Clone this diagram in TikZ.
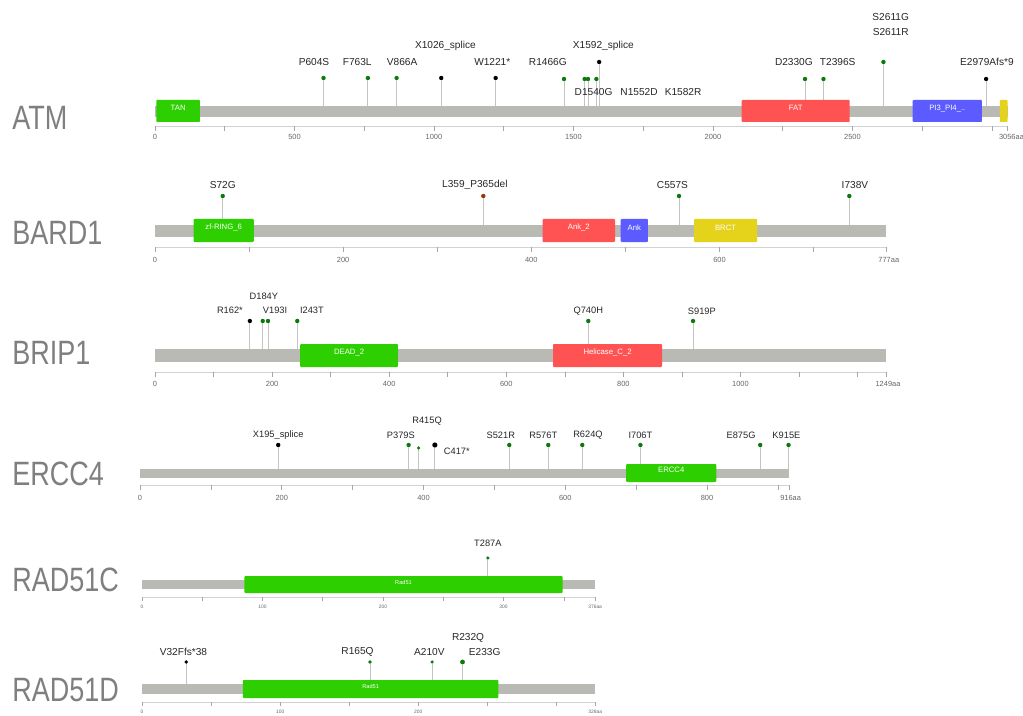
\documentclass[tikz,border=0pt]{standalone}
\usepackage{xcolor}
\usepackage{tikz}
\usepackage{fontspec}
\setmainfont{Liberation Sans}
\usetikzlibrary{fit}

\definecolor{pfgreen}{HTML}{2DCF00}
\definecolor{pfred}{HTML}{FF5353}
\definecolor{pfblue}{HTML}{5B5BFF}
\definecolor{pfyellow}{HTML}{E5D21A}
\definecolor{bargray}{HTML}{BABAB5}
\definecolor{stemgray}{HTML}{C4C4C4}
\definecolor{misgreen}{HTML}{0B7A0B}
\definecolor{inbrown}{HTML}{993404}
\definecolor{genegray}{HTML}{7F7F7F}
\definecolor{axgray}{HTML}{D2D2D2}

\tikzset{
    gene/.style={anchor=west, inner sep=0pt, text=genegray, font=\fontsize{24}{24}\selectfont},
    bar/.style={fill=bargray, inner sep=0pt},
    pfamdom/.style={inner sep=0pt, rounded corners=0.6pt, text=white, font=\fontsize{5.5}{6}\selectfont},
    stem/.style={draw=stemgray, line width=0.6pt},
    mis/.style={circle, fill=misgreen, inner sep=0pt, minimum size=0.11cm},
    trunc/.style={mis, fill=black},
    infr/.style={mis, fill=inbrown},
    mut/.style={inner sep=0pt, text=black!85, font=\fontsize{7.2}{8}\selectfont},
    smallmut/.style={mut, font=\fontsize{6.6}{7}\selectfont},
    axisline/.style={draw=axgray, line width=0.5pt},
    tickmark/.style={draw=black!35, line width=0.4pt},
    ticklab/.style={inner sep=0pt, text=black!60, font=\fontsize{5.3}{5.5}\selectfont},
}

\begin{document}
\begin{tikzpicture}[x=0.025cm, y=-0.025cm]
    \useasboundingbox (0,0) rectangle (1023,715);

    % Gene names
    \node[gene] (atmname) at (12,118) {\scalebox{0.8}[1]{ATM}};
    \node[gene] (bardname) at (12,233) {\scalebox{0.8}[1]{BARD1}};
    \node[gene] (bripname) at (12,353) {\scalebox{0.8}[1]{BRIP1}};
    \node[gene] (ercname) at (12,474) {\scalebox{0.8}[1]{ERCC4}};
    \node[gene] (rcname) at (12,580) {\scalebox{0.8}[1]{RAD51C}};
    \node[gene] (rdname) at (12,690) {\scalebox{0.8}[1]{RAD51D}};

    % ATM
    \begin{scope}[shift={(155,0)}, x=0.006968cm]
        \node[bar, fit={(0,106) (3056,117)}] (atmbar) {};
        % Mutations
        \node[mis] (atm604) at (604,78) {};
        \node[mis] (atm763) at (763,78) {};
        \node[mis] (atm866) at (866,78) {};
        \node[trunc] (atm1026) at (1026,78) {};
        \node[trunc] (atm1221) at (1221,78) {};
        \node[mis] (atm1466) at (1466,79) {};
        \node[mis] (atm1540) at (1540,79) {};
        \node[mis] (atm1552) at (1552,79) {};
        \node[mis] (atm1582) at (1582,79) {};
        \node[trunc] (atm1592) at (1592,62) {};
        \node[mis] (atm2330) at (2330,79) {};
        \node[mis] (atm2396) at (2396,79) {};
        \node[mis] (atm2611) at (2611,62) {};
        \node[trunc] (atm2979) at (2979,79) {};
        \foreach \m in {atm604,atm763,atm866,atm1026,atm1221,atm1466,atm1540,atm1552,atm1582,atm1592,atm2330,atm2396,atm2611,atm2979}
            \draw[stem] (\m) -- (\m |- atmbar.north);
        % Domains
        \node[pfamdom, fill=pfgreen, fit={(5,100) (161,122)}] (atmtan) {TAN};
        \node[pfamdom, fill=pfred, fit={(2103,100) (2490,122)}] (atmfat) {FAT};
        \node[pfamdom, fill=pfblue, fit={(2716,100) (2964,122)}] (atmpi) {PI3\_PI4\_..};
        \node[pfamdom, fill=pfyellow, fit={(3028,100) (3056,122)}] (atmend) {};
        % Labels
        \node[mut] (atm604l) at (570,62) {P604S};
        \node[mut] (atm763l) at (725,62) {F763L};
        \node[mut] (atm866l) at (886,62) {V866A};
        \node[mut] (atm1026l) at (1041,46) {X1026\_splice};
        \node[mut] (atm1221l) at (1209,62) {W1221*};
        \node[mut] (atm1466l) at (1408,62) {R1466G};
        \node[mut] (atm1540l) at (1572,92) {D1540G};
        \node[mut] (atm1552l) at (1735,92) {N1552D};
        \node[mut] (atm1582l) at (1893,92) {K1582R};
        \node[mut] (atm1592l) at (1607,46) {X1592\_splice};
        \node[mut] (atm2330l) at (2290,62) {D2330G};
        \node[mut] (atm2396l) at (2447,62) {T2396S};
        \node[mut] (atm2611g) at (2637,17) {S2611G};
        \node[mut] (atm2611r) at (2637,32) {S2611R};
        \node[mut] (atm2979l) at (2982,62) {E2979Afs*9};
        % Axis
        \draw[axisline] (0,126) -- (3056,126);
        \foreach \k in {0,250,...,3000,3056}
            \draw[tickmark] (\k,126) -- (\k,131);
        \foreach \k in {0,500,...,2500}
            \node[ticklab] (atmt\k) at (\k,137) {\k};
        \node[ticklab] (atmtlen) at (3070,137) {3056aa};
    \end{scope}

    % BARD1
    \begin{scope}[shift={(155,0)}, x=0.02352cm]
        \node[bar, fit={(0,225) (777,237)}] (bardbar) {};
        % Mutations
        \node[mis] (bard72) at (72,196) {};
        \node[infr] (bard359) at (349,196) {};
        \node[mis] (bard557) at (557,196) {};
        \node[mis] (bard738) at (738,196) {};
        \foreach \m in {bard72,bard359,bard557,bard738}
            \draw[stem] (\m) -- (\m |- bardbar.north);
        % Domains
        \node[pfamdom, fill=pfgreen, fit={(41,219) (105,242)}] (bardring) {zf-RING\_6};
        \node[pfamdom, fill=pfred, fit={(412,219) (489,242)}] (bardank2) {Ank\_2};
        \node[pfamdom, fill=pfblue, fit={(495,219) (524,242)}] (bardank) {Ank};
        \node[pfamdom, fill=pfyellow, fit={(573,219) (640,242)}] (bardbrct) {BRCT};
        % Labels
        \node[mut] (bard72l) at (72,185) {S72G};
        \node[mut] (bard359l) at (340,185) {L359\_P365del};
        \node[mut] (bard557l) at (550,185) {C557S};
        \node[mut] (bard738l) at (744,185) {I738V};
        % Axis
        \draw[axisline] (0,247) -- (777,247);
        \foreach \k in {0,100,...,700,777}
            \draw[tickmark] (\k,247) -- (\k,252);
        \foreach \k in {0,200,...,600}
            \node[ticklab] (bardt\k) at (\k,260) {\k};
        \node[ticklab] (bardtlen) at (780,260) {777aa};
    \end{scope}

    % BRIP1
    \begin{scope}[shift={(155,0)}, x=0.014632cm]
        \node[bar, fit={(0,349) (1249,362)}] (bripbar) {};
        % Mutations
        \node[trunc] (brip162) at (162,321) {};
        \node[mis] (brip184) at (184,321) {};
        \node[mis] (brip193) at (193,321) {};
        \node[mis] (brip243) at (243,321) {};
        \node[mis] (brip740) at (740,321) {};
        \node[mis] (brip919) at (919,321) {};
        \foreach \m in {brip162,brip184,brip193,brip243,brip740,brip919}
            \draw[stem] (\m) -- (\m |- bripbar.north);
        % Domains
        \node[pfamdom, fill=pfgreen, fit={(248,344) (415,367)}] (bripdead) {DEAD\_2};
        \node[pfamdom, fill=pfred, fit={(680,344) (866,367)}] (briphel) {Helicase\_C\_2};
        % Labels
        \node[smallmut] (brip162l) at (128,310) {R162*};
        \node[smallmut] (brip184l) at (186,296) {D184Y};
        \node[smallmut] (brip193l) at (205,310) {V193I};
        \node[smallmut] (brip243l) at (268,310) {I243T};
        \node[smallmut] (brip740l) at (740,311) {Q740H};
        \node[smallmut] (brip919l) at (934,311) {S919P};
        % Axis
        \draw[axisline] (0,372) -- (1249,372);
        \foreach \k in {0,100,...,1200,1249}
            \draw[tickmark] (\k,372) -- (\k,377);
        \foreach \k in {0,200,...,1000}
            \node[ticklab] (bript\k) at (\k,384) {\k};
        \node[ticklab] (briptlen) at (1252,384) {1249aa};
    \end{scope}

    % ERCC4
    \begin{scope}[shift={(140,0)}, x=0.017713cm]
        \node[bar, fit={(0,469) (916,478)}] (ercbar) {};
        % Mutations
        \node[trunc] (erc195) at (195,445) {};
        \node[mis] (erc379) at (379,445) {};
        \node[mis, minimum size=0.09cm] (erc393) at (393,448) {};
        \node[trunc, minimum size=0.13cm] (erc416) at (416,445) {};
        \node[mis] (erc521) at (521,445) {};
        \node[mis] (erc576) at (576,445) {};
        \node[mis] (erc624) at (624,445) {};
        \node[mis] (erc706) at (706,445) {};
        \node[mis] (erc875) at (875,445) {};
        \node[mis] (erc915) at (915,445) {};
        \foreach \m in {erc195,erc379,erc393,erc416,erc521,erc576,erc624,erc706,erc875,erc915}
            \draw[stem] (\m) -- (\m |- ercbar.north);
        % Domains
        \node[pfamdom, fill=pfgreen, fit={(686,464) (813,482)}] (ercdom) {ERCC4};
        % Labels
        \node[smallmut] (erc195l) at (195,435) {X195\_splice};
        \node[smallmut] (erc379l) at (368,435) {P379S};
        \node[smallmut] (erc415l) at (405,421) {R415Q};
        \node[smallmut] (erc417l) at (447,451) {C417*};
        \node[smallmut] (erc521l) at (509,435) {S521R};
        \node[smallmut] (erc576l) at (569,435) {R576T};
        \node[smallmut] (erc624l) at (632,435) {R624Q};
        \node[smallmut] (erc706l) at (706,435) {I706T};
        \node[smallmut] (erc875l) at (848,435) {E875G};
        \node[smallmut] (erc915l) at (912,435) {K915E};
        % Axis
        \draw[axisline] (0,485) -- (916,485);
        \foreach \k in {0,100,...,900,916}
            \draw[tickmark] (\k,485) -- (\k,490);
        \foreach \k in {0,200,...,800}
            \node[ticklab] (erct\k) at (\k,498) {\k};
        \node[ticklab] (erctlen) at (918,498) {916aa};
    \end{scope}

    % RAD51C
    \begin{scope}[shift={(142,0)}, x=0.03012cm]
        \node[bar, fit={(0,580) (376,589)}] (rcbar) {};
        % Mutations
        \node[mis, minimum size=0.09cm] (rc287) at (287,558) {};
        \draw[stem] (rc287) -- (rc287 |- rcbar.north);
        % Domains
        \node[pfamdom, fill=pfgreen, font=\fontsize{4}{4}\selectfont, fit={(85,576) (349,593)}] (rcdom) {Rad51};
        % Labels
        \node[smallmut] (rc287l) at (287,543) {T287A};
        % Axis
        \draw[axisline] (0,597) -- (376,597);
        \foreach \k in {0,50,...,350,376}
            \draw[tickmark] (\k,597) -- (\k,601);
        \foreach \k in {0,100,...,300}
            \node[ticklab, font=\fontsize{3.5}{4}\selectfont] (rct\k) at (\k,607) {\k};
        \node[ticklab, font=\fontsize{3.5}{4}\selectfont] (rctlen) at (376,607) {376aa};
    \end{scope}

    % RAD51D
    \begin{scope}[shift={(142,0)}, x=0.034527cm]
        \node[bar, fit={(0,684) (328,694)}] (rdbar) {};
        % Mutations
        \node[trunc, minimum size=0.09cm] (rd32) at (32,662) {};
        \node[mis, minimum size=0.09cm] (rd165) at (165,662) {};
        \node[mis, minimum size=0.09cm] (rd210) at (210,662) {};
        \node[mis, minimum size=0.12cm] (rd232) at (232,662) {};
        \foreach \m in {rd32,rd165,rd210,rd232}
            \draw[stem] (\m) -- (\m |- rdbar.north);
        % Domains
        \node[pfamdom, fill=pfgreen, font=\fontsize{4}{4}\selectfont, fit={(73,680) (258,698)}] (rddom) {Rad51};
        % Labels
        \node[mut] (rd32l) at (30,652) {V32Ffs*38};
        \node[mut] (rd165l) at (156,652) {R165Q};
        \node[mut] (rd210l) at (208,652) {A210V};
        \node[mut] (rd232l) at (236,638) {R232Q};
        \node[mut] (rd233l) at (248,652) {E233G};
        % Axis
        \draw[axisline] (0,702) -- (328,702);
        \foreach \k in {0,50,...,300,328}
            \draw[tickmark] (\k,702) -- (\k,706);
        \foreach \k in {0,100,200}
            \node[ticklab, font=\fontsize{3.5}{4}\selectfont] (rdt\k) at (\k,712) {\k};
        \node[ticklab, font=\fontsize{3.5}{4}\selectfont] (rdtlen) at (328,712) {328aa};
    \end{scope}
\end{tikzpicture}
\end{document}
